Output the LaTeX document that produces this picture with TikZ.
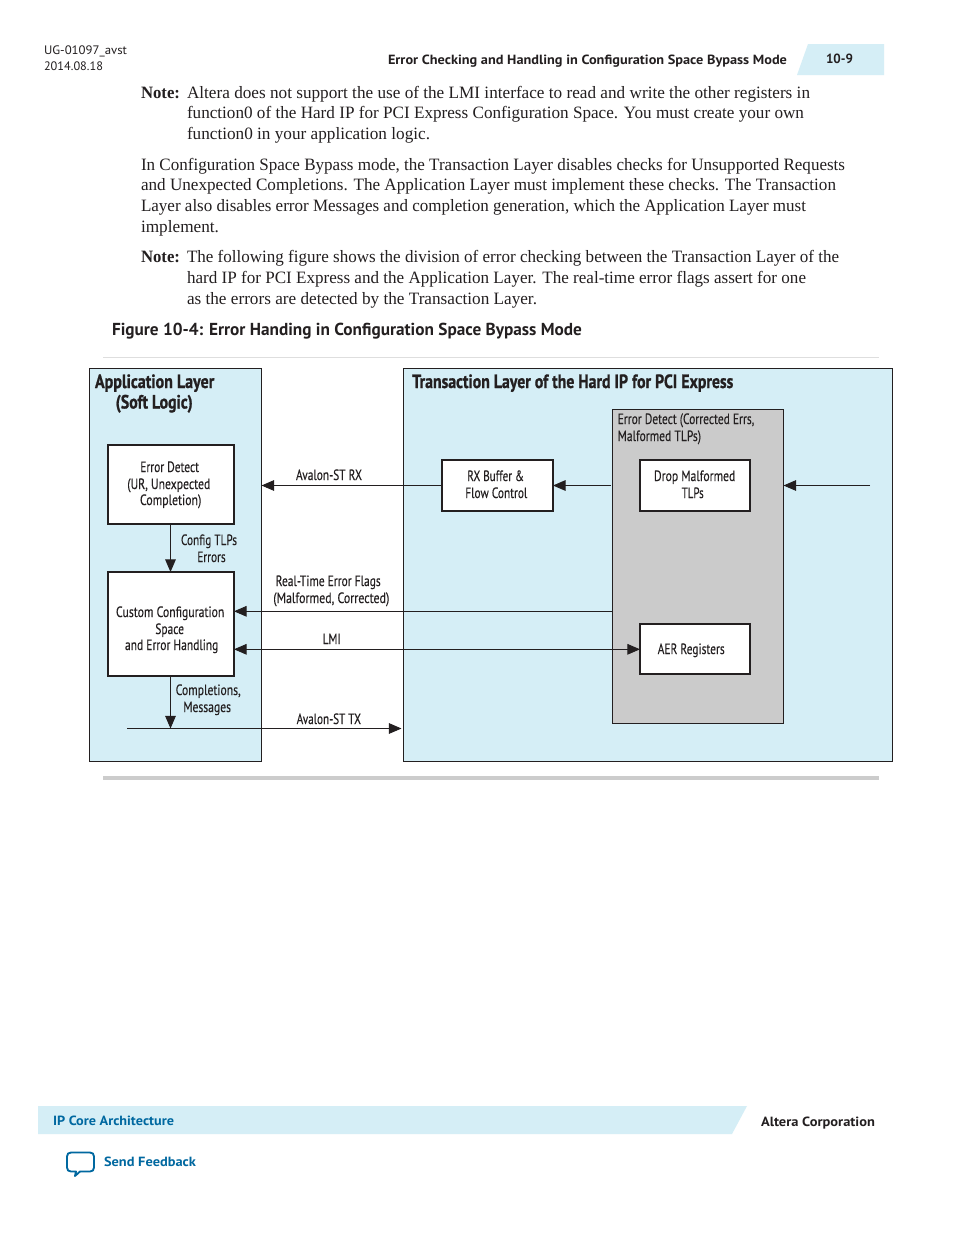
\documentclass[tikz,border=0pt]{standalone}
\usepackage{fontspec}
\usepackage{graphicx}
\usetikzlibrary{arrows.meta}
\setmainfont{Liberation Serif}
\newfontfamily\sfreg{PT Sans}
\newfontfamily\sflab[FakeBold=0.25]{PT Sans}
\newfontfamily\sfbold{PT Sans Bold}
\newfontfamily\sfttl[FakeBold=1.0]{PT Sans Bold}
\definecolor{ink}{HTML}{231F20}
\definecolor{paleblue}{HTML}{D5EEF6}
\definecolor{midgray}{HTML}{CBCBCB}
\definecolor{linkblue}{HTML}{0068A0}
\newcommand\txl[6]{\pgfmathsetlengthmacro\tw{(#3-#2)*0.75pt}\node[anchor=base west,inner sep=0pt,outer sep=0pt,text=ink] (#1) at (#2,#4) {\resizebox{\tw}{\height}{#5#6}};}
\newcommand\bxx[6]{\pgfmathsetlengthmacro\bw{(#4-#2)*0.75pt}\pgfmathsetlengthmacro\bh{(#5-#3)*0.75pt}\node[#6,rectangle,inner sep=0pt,outer sep=0pt,minimum width=\bw,minimum height=\bh] (#1) at ({(#2+#4)/2},{(#3+#5)/2}) {};}
\newcommand\bodyf{\fontsize{13pt}{15pt}\selectfont}
\newcommand\noteb{\fontsize{13pt}{15pt}\selectfont\bfseries}
\newcommand\lab{\sflab\fontsize{11.2pt}{12pt}\selectfont}
\newcommand\ttl{\sfttl\fontsize{14.4pt}{16pt}\selectfont}
\newcommand\hdr{\sfreg\fontsize{9.2pt}{11pt}\selectfont}
\newcommand\hdb{\sfbold\fontsize{10pt}{11pt}\selectfont}
\newcommand\figt{\sfbold\fontsize{13pt}{15pt}\selectfont}
\tikzset{
  layerbox/.style={draw=ink,fill=paleblue,line width=0.75pt},
  graybox/.style={draw=ink,fill=midgray,line width=0.75pt},
  innerbox/.style={draw=ink,fill=white,line width=1.35pt},
  conn/.style={draw=ink,line width=0.7pt},
  arr/.style={conn,-{Triangle[length=9.5pt,width=8pt]}},
  arrboth/.style={conn,{Triangle[length=9.5pt,width=8pt]}-{Triangle[length=9.5pt,width=8pt]}}
}
\begin{document}
\begin{tikzpicture}[x=0.75pt,y=-0.75pt]
\useasboundingbox[fill=white] (0,0) rectangle (954,1235);
% header
\fill[paleblue] (797,75) -- (808,44) -- (884,44) -- (884,75) -- cycle;
\txl{h1}{44}{127}{55}{\hdr}{UG-01097\_avst}
\txl{h2}{44}{103}{70}{\hdr}{2014.08.18}
\txl{h3}{388}{787}{64}{\hdb}{Error Checking and Handling in Configuration Space Bypass Mode}
\txl{h4}{826}{853}{63}{\hdb}{10-9}
% body
\txl{n1}{141}{180}{98}{\noteb}{Note:}
\txl{b1}{187}{810}{98}{\bodyf}{Altera does not support the use of the LMI interface to read and write the other registers in}
\txl{b2}{187}{804}{118}{\bodyf}{function0 of the Hard IP for PCI Express Configuration Space. You must create your own}
\txl{b3}{187}{430}{139}{\bodyf}{function0 in your application logic.}
\txl{p1}{141}{845}{170}{\bodyf}{In Configuration Space Bypass mode, the Transaction Layer disables checks for Unsupported Requests}
\txl{p2}{141}{836}{190}{\bodyf}{and Unexpected Completions. The Application Layer must implement these checks. The Transaction}
\txl{p3}{141}{806}{211}{\bodyf}{Layer also disables error Messages and completion generation, which the Application Layer must}
\txl{p4}{141}{219}{232}{\bodyf}{implement.}
\txl{n2}{141}{180}{262}{\noteb}{Note:}
\txl{c1}{187}{839}{262}{\bodyf}{The following figure shows the division of error checking between the Transaction Layer of the}
\txl{c2}{187}{806}{283}{\bodyf}{hard IP for PCI Express and the Application Layer. The real-time error flags assert for one}
\txl{c3}{187}{537}{304}{\bodyf}{as the errors are detected by the Transaction Layer.}
\txl{figtitle}{112}{582}{335}{\figt}{Figure 10-4: Error Handing in Configuration Space Bypass Mode}
% rules
\draw[color=black!13,line width=0.75pt] (103,357.5) -- (879,357.5);
\draw[color=black!20,line width=2.4pt] (103,778) -- (879,778);
% boxes
\bxx{app}{89.5}{368.5}{261.5}{761.5}{layerbox}
\bxx{tl}{403.5}{368.5}{892.5}{761.5}{layerbox}
\bxx{gray}{612.5}{409.5}{783.5}{723.5}{graybox}
\bxx{errdet}{108}{445}{234}{524}{innerbox}
\bxx{custom}{108}{572}{234}{676}{innerbox}
\bxx{rx}{442}{460}{553}{511}{innerbox}
\bxx{drop}{640}{460}{750}{511}{innerbox}
\bxx{aer}{640}{624}{750}{674}{innerbox}
\coordinate (txstart) at (127,728.5);
\coordinate (inpstart) at (870,485.5);
\coordinate (flagsy) at (612.5,611.3);
\coordinate (lmiy) at (640,649.3);
\coordinate (rxout) at (611,485.5);
% connectors
\draw[arr] (rx.west) -- (rx.west -| app.east);
\draw[arr] (rxout) -- (rx.east);
\draw[arr] (inpstart) -- (inpstart -| gray.east);
\draw[arr] (flagsy) -- (flagsy -| custom.east);
\draw[arrboth] (lmiy -| custom.east) -- (lmiy);
\draw[arr] (errdet.south -| 170.5,0) -- (custom.north -| 170.5,0);
\draw[arr] (custom.south -| 170.5,0) -- (txstart -| 170.5,0);
\draw[arr,shorten >=1.5] (txstart) -- (txstart -| tl.west);
% diagram labels
\txl{t1}{95}{214.3}{388}{\ttl}{Application Layer}
\txl{t2}{115.7}{192.7}{408.5}{\ttl}{(Soft Logic)}
\txl{t3}{412.3}{733.3}{388}{\ttl}{Transaction Layer of the Hard IP for PCI Express}
\txl{e1}{140.3}{199}{472}{\lab}{Error Detect}
\txl{e2}{127.3}{210.3}{489}{\lab}{(UR, Unexpected}
\txl{e3}{140}{201.3}{505}{\lab}{Completion)}
\txl{ct1}{181}{237}{545}{\lab}{Config TLPs}
\txl{ct2}{197.3}{225.7}{562}{\lab}{Errors}
\txl{cu1}{116}{224.3}{617}{\lab}{Custom Configuration}
\txl{cu2}{155.3}{184}{634}{\lab}{Space}
\txl{cu3}{125}{218.3}{650}{\lab}{and Error Handling}
\txl{cm1}{175.7}{240.7}{695}{\lab}{Completions,}
\txl{cm2}{183.3}{231}{712}{\lab}{Messages}
\txl{a1}{296}{362}{480}{\lab}{Avalon-ST RX}
\txl{f1}{275.7}{380.7}{586}{\lab}{Real-Time Error Flags}
\txl{f2}{273.3}{389.3}{603}{\lab}{(Malformed, Corrected)}
\txl{lmi}{322.7}{340.7}{644}{\lab}{LMI}
\txl{a2}{296.7}{361}{724}{\lab}{Avalon-ST TX}
\txl{g1}{617.7}{754.3}{424}{\lab}{Error Detect (Corrected Errs,}
\txl{g2}{617.7}{701}{441}{\lab}{Malformed TLPs)}
\txl{d1}{654}{735.3}{481}{\lab}{Drop Malformed}
\txl{d2}{681.7}{703.7}{498}{\lab}{TLPs}
\txl{r1}{467.3}{524}{481}{\lab}{RX Buffer \&}
\txl{r2}{465.3}{527.3}{498}{\lab}{Flow Control}
\txl{ae}{657.7}{724.7}{654}{\lab}{AER Registers}
% footer
\fill[paleblue] (38,1106) -- (747,1106) -- (732,1134) -- (38,1134) -- cycle;
\begingroup
\pgfmathsetlengthmacro\tw{121*0.75pt}
\node[anchor=base west,inner sep=0pt,outer sep=0pt,text=linkblue] (f1a) at (53,1125) {\resizebox{\tw}{\height}{\hdb IP Core Architecture}};
\pgfmathsetlengthmacro\tw{92*0.75pt}
\node[anchor=base west,inner sep=0pt,outer sep=0pt,text=linkblue] (f3) at (104,1166) {\resizebox{\tw}{\height}{\hdb Send Feedback}};
\endgroup
\txl{f2a}{761}{875}{1126}{\hdb}{Altera Corporation}
\draw[linkblue,line width=1.4pt,line join=round,fill=white]
  (71,1152.5) -- (90,1152.5) .. controls (92.5,1152.5) and (94,1154) .. (94,1156.5)
  -- (94,1167.5) .. controls (94,1170) and (92.5,1171.5) .. (90,1171.5)
  -- (80,1171.5) -- (75,1176) -- (76,1171.5) -- (71,1171.5)
  .. controls (68.5,1171.5) and (67,1170) .. (67,1167.5)
  -- (67,1156.5) .. controls (67,1154) and (68.5,1152.5) .. (71,1152.5) -- cycle;
\end{tikzpicture}
\end{document}
